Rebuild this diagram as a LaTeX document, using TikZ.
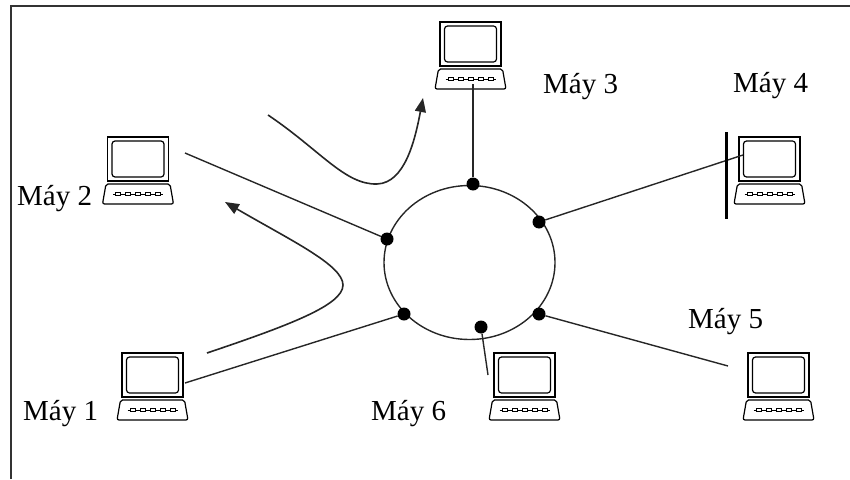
\documentclass[tikz,border=0pt]{standalone}
\usepackage{fontspec}
\setmainfont{Liberation Serif}
\usetikzlibrary{arrows.meta}
\newcommand{\ringRadiusX}{85.5}
\newcommand{\ringRadiusY}{77}
\newcommand{\labelFont}{\fontsize{29}{34}\selectfont}

\tikzset{
  wire/.style={line width=1.4pt, black!85},
  dot/.style={circle, fill=black, inner sep=0pt, minimum size=13pt},
  flow/.style={line width=1.6pt, black!85, -{Triangle[length=14pt,width=11pt]}},
  pcLabel/.style={anchor=base west, inner sep=0pt, font=\labelFont},
  laptop/.pic={
    \draw[line width=1.2pt] (-30.5,0) rectangle (30.5,44);
    \draw[line width=1.2pt, rounded corners=3pt] (-26,4) rectangle (26,40);
    \draw[line width=1.2pt, rounded corners=2pt] (-32,47) -- (-35.5,67) -- (35.5,67) -- (32,47) -- cycle;
    \draw[line width=0.8pt] (-25,57) -- (25,57);
    \foreach \k in {-20,-10,0,10,20}
      \draw[line width=0.8pt, fill=white] (\k-2.5,55.5) rectangle (\k+2.5,58.5);
    \coordinate (-kb) at (0,67);
  }
}

\begin{document}
\begin{tikzpicture}[x=1pt, y=-1pt]
  \useasboundingbox (0,0) rectangle (850,479);

  % frame
  \draw[line width=2pt, black!80] (11,479) -- (11,6) -- (850,6);

  % computers
  \pic (pcOne) at (152.5,353) {laptop};
  \pic (pcTwo) at (138,137) {laptop};
  \pic (pcThree) at (470.5,22) {laptop};
  \pic (pcFour) at (769.5,137) {laptop};
  \pic (pcFive) at (778.5,353) {laptop};
  \pic (pcSix) at (524.5,353) {laptop};

  \node[pcLabel] (labelOne) at (23,420) {Máy 1};
  \node[pcLabel] (labelTwo) at (17,205) {Máy 2};
  \node[pcLabel] (labelThree) at (543,93) {Máy 3};
  \node[pcLabel] (labelFour) at (733,92) {Máy 4};
  \node[pcLabel] (labelFive) at (688,328) {Máy 5};
  \node[pcLabel] (labelSix) at (371,420) {Máy 6};

  % ring with taps
  \coordinate (ring) at (469.5,262.5);
  \draw[line width=1.4pt, black!85] (ring) ellipse [x radius=\ringRadiusX, y radius=\ringRadiusY];

  \node[dot] (dotTop) at (473,184) {};
  \node[dot] (dotUpRight) at (539,222) {};
  \node[dot] (dotLeft) at (387,239) {};
  \node[dot] (dotLowLeft) at (404,314) {};
  \node[dot] (dotLowRight) at (539,314) {};
  \node[dot] (dotBottom) at (481,327) {};

  \coordinate (endThree) at (473,84);
  \coordinate (endFour) at (743,155);
  \coordinate (endTwo) at (185,153);
  \coordinate (endOne) at (185,383);
  \coordinate (endSix) at (488,375);
  \coordinate (endFive) at (728,366);

  \draw[wire] (endThree) -- (dotTop);
  \draw[wire] (dotUpRight) -- (endFour);
  \draw[wire] (endTwo) -- (dotLeft);
  \draw[wire] (endOne) -- (dotLowLeft);
  \draw[wire] (dotBottom) -- (endSix);
  \draw[wire] (dotLowRight) -- (endFive);

  % terminator bar at Máy 4
  \draw[line width=3pt] (726,132) -- (726,219);

  % data paths
  \draw[flow] (207,353) .. controls (290,325) and (343,305) .. (343,285)
              .. controls (343,265) and (290,240) .. (225,202);
  \draw[flow] (268,115) .. controls (320,150) and (345,185) .. (377,184)
              .. controls (405,183) and (415,140) .. (423,98);
\end{tikzpicture}
\end{document}
